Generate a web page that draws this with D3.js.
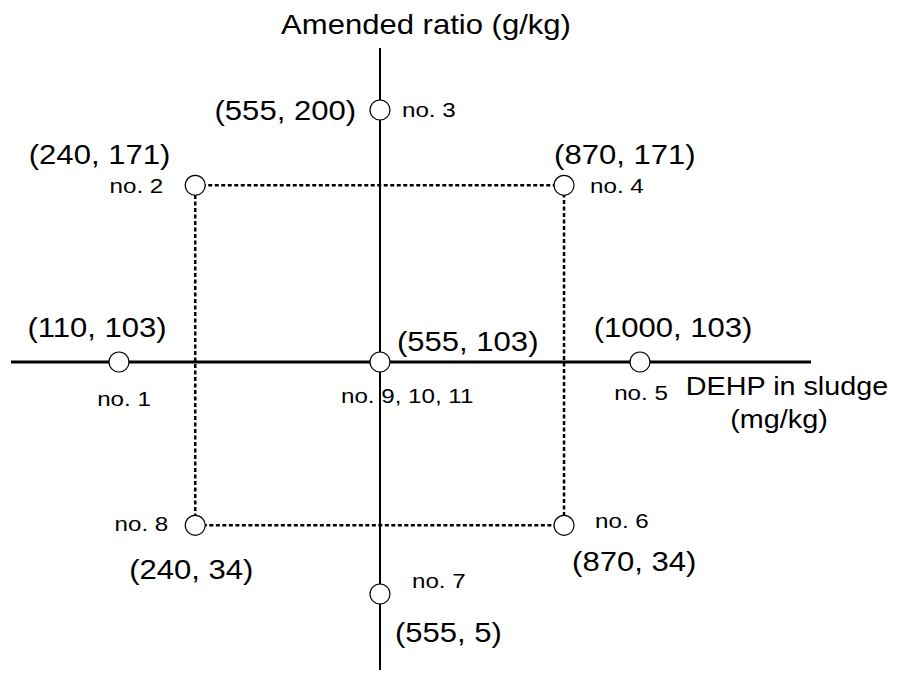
<!DOCTYPE html>
<html>
<head>
<meta charset="utf-8">
<script src="https://cdn.jsdelivr.net/npm/d3@7"></script>
<style>
  body { margin: 0; background: #fff; }
  svg text { font-family: Arial, "Liberation Sans", Helvetica, sans-serif; fill: #000; }
</style>
</head>
<body>
<svg width="897" height="673"></svg>
<script>
// design points of the central composite design (run no., DEHP, amended ratio)
var runLabels = ["no. 1", "no. 2", "no. 3", "no. 4", "no. 5", "no. 6", "no. 7", "no. 8", "no. 9, 10, 11"];
var dehpValues = [110, 240, 555, 870, 1000, 870, 555, 240, 555];   // mg/kg
var ratioValues = [103, 171, 200, 171, 103, 34, 5, 34, 103];        // g/kg

// factorial points joined by the dotted square (indexes into the arrays above)
var squareRuns = [1, 3, 5, 7, 1];

var xTitle = ["DEHP in sludge", "(mg/kg)"];
var yTitle = "Amended ratio (g/kg)";

var svg = d3.select("svg"),
    width = 897,
    height = 673;

var stretch = 1.15; // text in the figure is drawn a bit wide

// scales, broken at the centre point (schematic, not to scale)
var x = d3.scaleLinear()
    .domain([d3.min(dehpValues), 555, d3.max(dehpValues)])
    .range([119, 380, 640]);

var y = d3.scaleLinear()
    .domain([d3.min(ratioValues), 103, d3.max(ratioValues)])
    .range([594, 362, 110]);

var cx = x(555), cy = y(103);

// label placement for each run: [dx, dy, anchor] for "no." label and coordinate label
var noPos = [
    [5, 44, "middle"], [-32, 8, "end"], [22, 7, "start"], [26, 8, "start"], [1, 38, "middle"],
    [31, 3, "start"], [32, -6, "start"], [-27, 6, "end"], [-39, 41, "start"]
];
var coordPos = [
    [-22, -25, "middle"], [-25, -21, "end"], [-24, 10, "end"], [-10, -21, "start"], [33, -25, "middle"],
    [8, 46, "start"], [15, 48, "start"], [-4, 54, "middle"], [17, -11, "start"]
];

function addText(g, tx, ty, str, size, anchor) {
    return g.append("text")
        .attr("transform", "translate(" + tx + "," + ty + ") scale(" + stretch + ",1)")
        .attr("text-anchor", anchor)
        .attr("font-size", size)
        .text(str);
}

// axes
svg.append("line")
    .attr("x1", 11).attr("x2", 811)
    .attr("y1", cy).attr("y2", cy)
    .attr("stroke", "#000").attr("stroke-width", 3);

svg.append("line")
    .attr("x1", cx).attr("x2", cx)
    .attr("y1", 48).attr("y2", 670)
    .attr("stroke", "#000").attr("stroke-width", 2);

// dotted square through the factorial points
var sq = d3.line()
    .x(function (i) { return x(dehpValues[i]); })
    .y(function (i) { return y(ratioValues[i]); });

svg.append("path")
    .datum(squareRuns)
    .attr("d", sq)
    .attr("fill", "none")
    .attr("stroke", "#000")
    .attr("stroke-width", 2.5)
    .attr("stroke-dasharray", "4,2.5");

// points
var pts = runLabels.map(function (lab, i) {
    return { run: lab, dehp: dehpValues[i], ratio: ratioValues[i], i: i };
});

svg.append("g")
    .selectAll("circle")
    .data(pts)
    .enter().append("circle")
    .attr("cx", function (d) { return x(d.dehp); })
    .attr("cy", function (d) { return y(d.ratio); })
    .attr("r", 10)
    .attr("fill", "#fff")
    .attr("stroke", "#000")
    .attr("stroke-width", 1.2);

// labels
var lab = svg.append("g");
pts.forEach(function (d) {
    var px = x(d.dehp), py = y(d.ratio);
    var a = noPos[d.i], b = coordPos[d.i];
    addText(lab, px + a[0], py + a[1], d.run, 21, a[2]);
    addText(lab, px + b[0], py + b[1], "(" + d.dehp + ", " + d.ratio + ")", 27, b[2]);
});

// axis titles
addText(svg, 426, 34, yTitle, 27, "middle");
addText(svg, 787, 395, xTitle[0], 25, "middle");
addText(svg, 779, 428, xTitle[1], 25, "middle");
</script>
</body>
</html>
